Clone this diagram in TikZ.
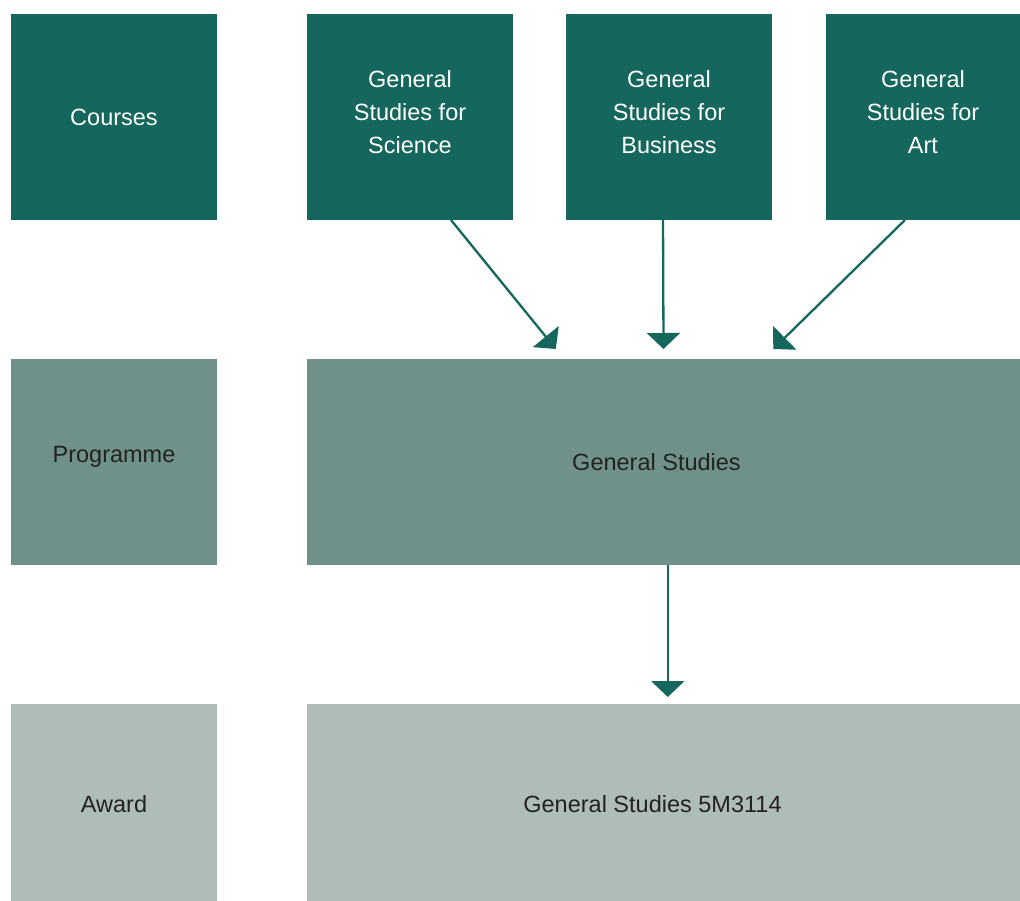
\documentclass[tikz,border=0pt]{standalone}
\usepackage{fontspec}
\setmainfont{Liberation Sans}
\usetikzlibrary{arrows.meta,calc}
\definecolor{darkteal}{HTML}{15665C}
\definecolor{midteal}{HTML}{6F918A}
\definecolor{lightteal}{HTML}{AEBDB9}
\definecolor{txtdark}{HTML}{222222}
\newcommand{\shiftup}[2]{\raisebox{#1}[\height][\depth]{#2}}
\begin{document}
\begin{tikzpicture}[x=1pt,y=-1pt,
  box/.style={rectangle,inner sep=0pt,outer sep=0pt,align=center,
    font=\fontsize{23.5}{33}\selectfont},
  darkbox/.style={box,fill=darkteal,text=white},
  midbox/.style={box,fill=midteal,text=txtdark},
  lightbox/.style={box,fill=lightteal,text=txtdark},
  conn/.style={draw=darkteal,line width=2.3pt,-{Triangle[width=33pt,length=16pt]}}]
\useasboundingbox (0,0) rectangle (1020,901);
% row 1
\node[darkbox,minimum width=206pt,minimum height=206pt] (courses) at (114,117) {Courses};
\node[darkbox,minimum width=206pt,minimum height=206pt] (sci) at (410,117) {\shiftup{3pt}{\begin{tabular}{@{}c@{}}General\\Studies for\\Science\end{tabular}}};
\node[darkbox,minimum width=206pt,minimum height=206pt] (bus) at (669,117) {\shiftup{3pt}{\begin{tabular}{@{}c@{}}General\\Studies for\\Business\end{tabular}}};
\node[darkbox,minimum width=194pt,minimum height=206pt] (art) at (923,117) {\shiftup{3pt}{\begin{tabular}{@{}c@{}}General\\Studies for\\Art\end{tabular}}};
% row 2
\node[midbox,minimum width=206pt,minimum height=206pt] (prog) at (114,462) {\shiftup{5pt}{Programme}};
\node[midbox,minimum width=713pt,minimum height=206pt] (gs) at (663.5,462) {General Studies\hspace*{14pt}};
% row 3
\node[lightbox,minimum width=206pt,minimum height=197pt] (award) at (114,802.5) {\shiftup{-2pt}{Award}};
\node[lightbox,minimum width=713pt,minimum height=197pt] (gsa) at (663.5,802.5) {\shiftup{-2pt}{General Studies 5M3114}\hspace*{22pt}};
% connector ends
\coordinate (s1) at ($(sci.south west)!0.699!(sci.south east)$);
\coordinate (b1) at ($(bus.south west)!0.471!(bus.south east)$);
\coordinate (a1) at ($(art.south west)!0.407!(art.south east)$);
\coordinate (t1) at ($(gs.north west)!0.349!(gs.north east)+(0,-10)$);
\coordinate (t2) at ($(gs.north west)!0.500!(gs.north east)+(0,-10)$);
\coordinate (t3) at ($(gs.north west)!0.654!(gs.north east)+(0,-10)$);
\coordinate (g1) at ($(gs.south west)!0.506!(gs.south east)$);
\coordinate (t4) at ($(gsa.north west)!0.506!(gsa.north east)+(0,-7)$);
\draw[conn] (s1) -- (t1);
\draw[conn] (b1) -- (t2);
\draw[conn] (a1) -- (t3);
\draw[conn] (g1) -- (t4);
\end{tikzpicture}
\end{document}
